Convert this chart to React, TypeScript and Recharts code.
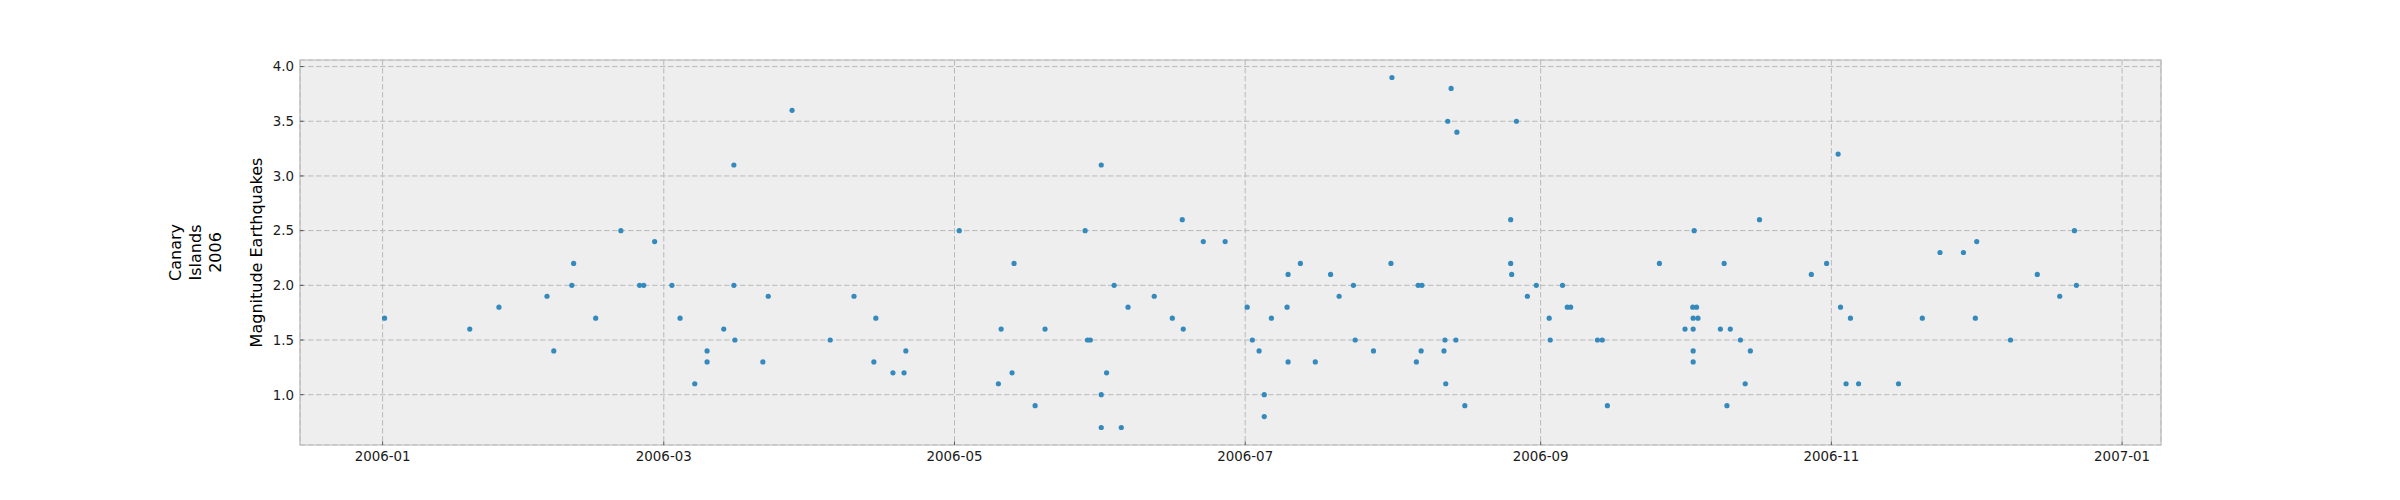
import React from "react";
import {
  ScatterChart,
  Scatter,
  XAxis,
  YAxis,
  CartesianGrid,
  ReferenceArea,
} from "recharts";

// Event times (UTC, "YYYY-MM-DD HH")
const eventTimes: string[] = [
  "2006-01-01 10", "2006-01-19 07", "2006-01-25 10", "2006-02-04 12", "2006-02-05 22", "2006-02-09 17",
  "2006-02-10 02", "2006-02-14 17", "2006-02-20 00", "2006-02-23 22", "2006-02-24 19", "2006-02-27 02",
  "2006-03-02 17", "2006-03-04 10", "2006-03-07 12", "2006-03-10 02", "2006-03-10 02", "2006-03-13 14",
  "2006-03-15 17", "2006-03-15 17", "2006-03-15 22", "2006-03-21 19", "2006-03-22 22", "2006-03-27 22",
  "2006-04-04 22", "2006-04-09 22", "2006-04-14 02", "2006-04-14 12", "2006-04-18 02", "2006-04-20 10",
  "2006-04-20 19",
  "2006-05-02 00", "2006-05-10 05", "2006-05-10 19", "2006-05-13 02", "2006-05-13 12", "2006-05-17 22",
  "2006-05-20 00", "2006-05-28 10", "2006-05-28 22", "2006-05-29 12", "2006-05-31 19", "2006-05-31 19",
  "2006-05-31 19",
  "2006-06-01 22", "2006-06-03 12", "2006-06-05 00", "2006-06-06 10", "2006-06-11 22", "2006-06-15 17",
  "2006-06-17 19", "2006-06-18 00", "2006-06-22 05", "2006-06-26 19",
  "2006-07-01 10", "2006-07-02 12", "2006-07-03 22", "2006-07-05 00", "2006-07-05 00", "2006-07-06 12",
  "2006-07-09 19", "2006-07-10 00", "2006-07-10 00", "2006-07-12 14", "2006-07-15 17", "2006-07-18 22",
  "2006-07-20 17", "2006-07-23 17", "2006-07-24 02", "2006-07-27 22", "2006-07-31 14", "2006-07-31 19",
  "2006-08-05 22", "2006-08-06 07", "2006-08-07 02", "2006-08-06 22", "2006-08-11 17", "2006-08-11 22",
  "2006-08-12 02", "2006-08-12 12", "2006-08-13 05", "2006-08-14 05", "2006-08-14 10", "2006-08-16 02",
  "2006-08-25 17", "2006-08-25 17", "2006-08-25 22", "2006-08-26 22", "2006-08-29 05", "2006-08-31 02",
  "2006-09-02 19", "2006-09-03 00", "2006-09-05 14", "2006-09-06 14", "2006-09-07 07", "2006-09-12 22",
  "2006-09-13 22", "2006-09-15 00", "2006-09-25 22",
  "2006-10-01 07", "2006-10-02 22", "2006-10-03 17", "2006-10-03 00", "2006-10-04 00", "2006-10-03 00",
  "2006-10-03 00", "2006-10-03 00", "2006-10-03 05", "2006-10-08 17", "2006-10-09 12", "2006-10-10 02",
  "2006-10-10 19", "2006-10-12 22", "2006-10-13 22", "2006-10-15 00", "2006-10-16 22", "2006-10-27 19",
  "2006-10-31 00",
  "2006-11-02 10", "2006-11-02 22", "2006-11-04 02", "2006-11-05 00", "2006-11-06 17", "2006-11-15 02",
  "2006-11-20 02", "2006-11-23 19", "2006-11-28 17",
  "2006-12-01 05", "2006-12-01 12", "2006-12-08 14", "2006-12-14 05", "2006-12-18 22", "2006-12-22 00",
  "2006-12-22 10",
];

// Magnitudes for each event
const magnitudes: number[] = [
  1.7, 1.6, 1.8, 1.9, 1.4, 2.0, 2.2, 1.7, 2.5, 2.0, 2.0, 2.4,
  2.0, 1.7, 1.1, 1.4, 1.3, 1.6, 3.1, 2.0, 1.5, 1.3, 1.9, 3.6,
  1.5, 1.9, 1.3, 1.7, 1.2, 1.2, 1.4,
  2.5, 1.1, 1.6, 1.2, 2.2, 0.9, 1.6, 2.5, 1.5, 1.5, 3.1, 1.0, 0.7,
  1.2, 2.0, 0.7, 1.8, 1.9, 1.7, 2.6, 1.6, 2.4, 2.4,
  1.8, 1.5, 1.4, 1.0, 0.8, 1.7, 1.8, 2.1, 1.3, 2.2, 1.3, 2.1, 1.9, 2.0, 1.5, 1.4, 2.2, 3.9,
  1.3, 2.0, 2.0, 1.4, 1.4, 1.5, 1.1, 3.5, 3.8, 1.5, 3.4, 0.9, 2.6, 2.2, 2.1, 3.5, 1.9, 2.0,
  1.7, 1.5, 2.0, 1.8, 1.8, 1.5, 1.5, 0.9, 2.2,
  1.6, 1.8, 1.8, 1.7, 1.7, 1.6, 1.4, 1.3, 2.5, 1.6, 2.2, 0.9, 1.6, 1.5, 1.1, 1.4, 2.6, 2.1, 2.2,
  3.2, 1.8, 1.1, 1.7, 1.1, 1.1, 1.7, 2.3, 2.3,
  1.7, 2.4, 1.5, 2.1, 1.9, 2.5, 2.0,
];

const xTickLabels: string[] = ["2006-01", "2006-03", "2006-05", "2006-07", "2006-09", "2006-11", "2007-01"];
const yTicks: number[] = [1.0, 1.5, 2.0, 2.5, 3.0, 3.5, 4.0];

const parseTime = (s: string): number => {
  const [d, h] = s.split(" ");
  const [Y, M, D] = d.split("-").map(Number);
  return Date.UTC(Y, M - 1, D, Number(h || 0));
};
const parseMonth = (s: string): number => {
  const [Y, M] = s.split("-").map(Number);
  return Date.UTC(Y, M - 1, 1);
};

const data = eventTimes.map((s, i) => ({ t: parseTime(s), m: magnitudes[i] }));
const xTicks = xTickLabels.map(parseMonth);
const labelFor: Record<number, string> = {};
xTicks.forEach((t, i) => (labelFor[t] = xTickLabels[i]));

const pad = (lo: number, hi: number): [number, number] => {
  const r = hi - lo;
  return [lo - 0.05 * r, hi + 0.05 * r];
};
const ts = data.map((d) => d.t);
const ms = data.map((d) => d.m);
const xDomain = pad(Math.min(...ts), Math.max(...ts));
const yDomain = pad(Math.min(...ms), Math.max(...ms));

const FONT = "DejaVu Sans, Verdana, sans-serif";
const DOT = "#348ABD";

const XTick = (props: any) => {
  const { x, y, payload } = props;
  const base = y - 6;
  return (
    <g>
      <line x1={x} x2={x} y1={base} y2={base - 3.5} stroke="#333" strokeWidth={0.8} />
      <text x={x} y={y} dy="0.71em" textAnchor="middle" fontSize={13.4} fill="#1a1a1a" fontFamily={FONT}>
        {labelFor[payload.value] ?? ""}
      </text>
    </g>
  );
};

const YTick = (props: any) => {
  const { x, y, payload } = props;
  const edge = x + 6;
  return (
    <g>
      <line x1={edge} x2={edge + 3.5} y1={y} y2={y} stroke="#333" strokeWidth={0.8} />
      <text x={x} y={y} dy="0.36em" textAnchor="end" fontSize={13.4} fill="#1a1a1a" fontFamily={FONT}>
        {Number(payload.value).toFixed(1)}
      </text>
    </g>
  );
};

const YLabels = () => {
  const cy = 252.5;
  const lines = ["Canary", "Islands", "2006"];
  const bases = [180.5, 200.5, 220.5];
  return (
    <g fontFamily={FONT} fontSize={16} fill="#000">
      {lines.map((l, i) => (
        <text key={l} x={bases[i]} y={cy} textAnchor="middle" transform={`rotate(-90 ${bases[i]} ${cy})`}>
          {l}
        </text>
      ))}
      <text x={262} y={cy} textAnchor="middle" transform={`rotate(-90 262 ${cy})`}>
        Magnitude Earthquakes
      </text>
    </g>
  );
};

const Dot = (props: any) => {
  const { cx, cy } = props;
  if (cx == null || cy == null) return null;
  return <circle cx={cx} cy={cy} r={2.6} fill={DOT} />;
};

export default function App() {
  return (
    <div style={{ position: "absolute", left: 0, top: 0, width: 2400, height: 500, background: "#fff" }}>
      <ScatterChart
        width={2400}
        height={500}
        margin={{ top: 60, right: 239, bottom: 0, left: 0 }}
        style={{ fontFamily: FONT }}
      >
        <CartesianGrid
          stroke="#b9b9b9"
          strokeDasharray="5.5 2.5"
          strokeWidth={1}
          fill="#eeeeee"
          fillOpacity={1}
        />
        <XAxis
          type="number"
          dataKey="t"
          domain={xDomain}
          allowDataOverflow
          ticks={xTicks}
          interval={0}
          height={55}
          tickSize={0}
          tickMargin={6}
          axisLine={false}
          tickLine={false}
          tick={<XTick />}
        />
        <YAxis
          type="number"
          dataKey="m"
          domain={yDomain}
          allowDataOverflow
          ticks={yTicks}
          interval={0}
          width={300}
          tickSize={0}
          tickMargin={6}
          axisLine={false}
          tickLine={false}
          tick={<YTick />}
          label={<YLabels />}
        />
        <ReferenceArea
          x1={xDomain[0]}
          x2={xDomain[1]}
          y1={yDomain[0]}
          y2={yDomain[1]}
          fill="none"
          fillOpacity={0}
          stroke="#bcbcbc"
          strokeWidth={1.2}
          ifOverflow="visible"
        />
        <Scatter data={data} fill={DOT} shape={<Dot />} isAnimationActive={false} />
      </ScatterChart>
    </div>
  );
}
